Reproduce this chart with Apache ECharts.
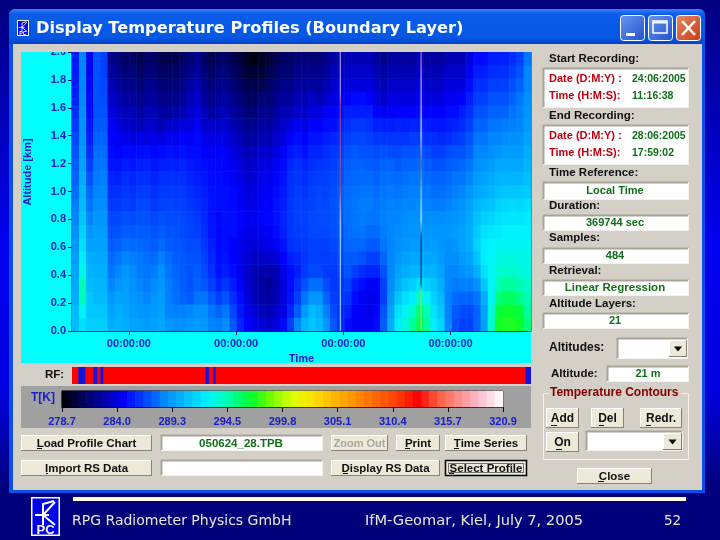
<!DOCTYPE html>
<html>
<head>
<meta charset="utf-8">
<style>html,body{margin:0;padding:0;background:#00007e}#chart{width:720px;height:540px}</style>
<script src="https://cdn.jsdelivr.net/npm/echarts@6/dist/echarts.min.js"></script>
</head>
<body>
<div id="chart"></div>
<script>
// altitude labels, bottom to top
const altitudes = ['0.0','0.1','0.2','0.3','0.4','0.5','0.6','0.7','0.8','0.9','1.0','1.1','1.2','1.3','1.4','1.5','1.6','1.7','1.8','1.9','2.0'];

// temperature [K], one array per altitude, 64 time bins
const t200 = [285.5,288.5,284.5,287,286.5, 282,281.5,281,281,280.5,281,281,280.5,280.5,280.5,281,281.5,282,281,280.5,281, 281,280.5,280,279.5,279,279.5,280,280.5,281, 281,281.5,281.5,281.5,281.5,282,282.5,283,283, 283,283,283,282.5,282,282.5,282.5,282.5,282.5,283, 282.5,282.5,282.5,283,283,283,284,285,285,285.5, 285.5,285.5,286,286.5,288];
const t190 = [285.5,288.5,284.5,287,286.5, 282.5,282,281.5,281.5,281,281.5,281.5,281,281,281,281.5,282,282.5,281.5,281,281.5, 281.5,281,280.5,280,279.8,280,280.5,281,281.5, 281.5,282,282,282,282,282.5,283,283.5,283.5, 283.5,283.5,283.5,283,282.5,283,283,283,283,283.5, 283,283,283,283.5,283.5,283.5,284.5,285.5,285.5,286, 286,286,286.5,287,288.5];
const t180 = [285.5,288.5,284.7,287,286.7, 283,282.5,282,282,281.5,282,282,281.5,281.5,281.5,282,282.5,283,282,281.5,282, 282,281.5,281,280.5,280.5,280.5,281,281.5,282, 282,282.5,282.5,282.5,282.5,283,283.5,284,284, 284,284,284,283.5,283,283.5,283.5,283.5,283.5,284, 283.5,283.5,283.5,284,284,284,285,286,286,286.5, 286.5,286.5,287,287.5,288.5];
const t170 = [285.7,288.6,284.9,287,286.8, 283.5,283,282.5,282.5,282,282.5,282.5,282,282,282,282.5,283,283.5,282.5,282,282.5, 282.5,282,281.5,281,281,281.5,281.5,282,282.5, 282.5,283,283,283.5,283,283.5,284,284.5,284.7, 285,285,284.7,284,283.5,284,284,284,284,284.5, 284,284,284,284.5,284.5,284.7,285.5,286.5,286.5,287, 287,287,287.5,288,288.8];
const t160 = [286,288.8,285,287,287, 284,283.5,283,283,282.5,283,283,282.5,282.5,282.7,283,283.5,284,283,282.5,283, 283,282.5,282,281.5,281.5,282,282,282.5,283, 283,283.5,283.5,284,284,284.5,284.7,285,285.5, 285.5,285.5,285.5,284.7,284.5,284.5,284.7,284.7,284.7,285, 284.7,284.7,284.7,285,285,285.5,286,287,287,287.5, 287.5,287.5,288,288.3,289];
const t150 = [286.3,288.9,285.3,287.2,287.2, 284.5,284,283.5,283.5,283,283.5,283.5,283,283.5,283.5,284,284,284.5,283.5,283.5,283.5, 283.5,283,282.5,282,282,282.5,282.5,283,283.5, 284,284.5,284,284.7,284.7,285,285,285.5,286, 286.3,286.3,286,285.5,285.5,285.5,285.7,285.5,285.7,285.7, 285.5,285.3,285.3,285.5,285.7,286,286.5,287.5,287.5,288, 288,288.2,288.3,288.5,289.2];
const t140 = [286.7,289,285.5,287.5,287.5, 284.7,284.5,284.2,284,284.2,284,284.2,284,284.5,284.3,284.7,284.5,284.9,284.2,284,284.2, 284,283.5,283,282.5,282.7,283,283,283.5,284, 284.7,285,284.7,285.2,285.2,285.5,285.7,286,286.5, 286.7,286.7,286.5,286.2,286.2,286.2,286.2,286.2,286.5,286.5, 286,286,285.8,286,286.3,286.5,287,288,288,288.5, 288.5,288.7,288.7,288.8,289.5];
const t130 = [287,289.3,286,287.8,287.8, 285,284.7,284.9,284.9,285,285.1,284.8,285,285.2,285,285.2,285,285,284.7,284.5,284.7, 284.5,284,283.5,283,283.2,283.5,283.5,284,284.7, 285.3,285.5,285.2,285.7,285.7,286,286.2,286.5,287, 287.2,287,287,286.8,287,286.8,286.8,287,287,287.2, 286.7,286.5,286.5,286.8,287,287,287.5,288.5,288.5,288.8, 289,289.2,289.2,289.2,290];
const t120 = [287.3,289.6,286.5,288,288, 285.3,285.2,285.5,285.3,285.5,285.7,285.3,285.5,285.6,285.5,285.7,285.4,285.2,285,284.9,284.9, 284.7,284.3,284,283.3,283.5,284,284,284.5,285, 285.8,286,285.7,286,286.2,286.3,286.5,286.8,287.3, 287.5,287.5,287.3,287.2,287.5,287.5,287.2,287.5,287.5,287.7, 287.3,287,287,287.3,287.5,287.6,288,288.8,289,289.3, 289.8,289.8,289.8,289.8,290.3];
const t110 = [287.5,290,287,288.2,288.3, 285.7,285.6,286,285.7,286,286,285.7,286,286,286,286,285.7,285.5,285.3,285,285, 284.8,284.5,284.2,283.6,283.8,284.3,284.3,284.8,285.2, 286,286.2,286,286.3,286.5,286.5,286.7,287,287.5, 287.7,287.7,287.7,287.5,287.8,287.8,287.7,287.8,288,288, 287.7,287.5,287.5,287.7,288,288,288.5,289.2,289.5,289.8, 290.2,290.3,290.3,290.3,290.7];
const t100 = [287.8,290.3,287.7,288.4,288.5, 286,286,286.3,286,286.4,286.4,286,286.3,286.3,286.3,286.3,286,285.8,285.5,285.2,285, 285,284.8,284.4,284,284,284.5,284.5,285,285.4, 286,286.4,286.2,286.5,286.7,286.6,286.8,287.2,287.7, 287.9,288,288,287.8,288,288.1,288,288.2,288.3,288.3, 288,287.8,287.8,288,288.3,288.5,289,289.7,290,290.3, 290.8,291,291,291,291.2];
const t090 = [288.2,290.6,288,288.7,288.7, 286.3,286.3,286.6,286.4,286.7,286.7,286.3,286.6,286.6,286.5,286.5,286.2,286,285.7,285.2,285, 285,284.9,284.6,284.2,284.2,284.6,284.7,285.2,285.6, 286.2,286.5,286.4,286.6,286.8,286.7,287,287.3,287.8, 288,288.2,288.2,288,288.2,288.4,288.3,288.5,288.5,288.6, 288.3,288.2,288.2,288.4,288.7,288.9,289.5,290.3,290.7,291, 291.5,291.7,291.8,291.7,292];
const t080 = [288.5,291,288.5,289,289, 286.7,286.7,287,286.8,287,287,286.7,287,286.8,286.8,286.7,286.5,286.3,285.8,285.2,284.9, 285.1,285,284.7,284.4,284.4,284.7,284.8,285.2,285.7, 286.2,286.5,286.5,286.7,286.8,286.8,287,287.3,287.8, 288,288.2,288,288,288.3,288.5,288.5,288.7,288.8,288.8, 288.7,288.7,288.7,288.8,289,289.2,289.8,290.8,291.3,291.6, 292,292.2,292.3,292.2,292.5];
const t070 = [288.8,291.4,289,289.3,289.3, 287,287,287.3,287.2,287.3,287.3,287,287.3,287,287,286.8,286.6,286.5,286,285.3,284.8, 285,285,284.6,284.2,284.2,284.4,284.6,285,285.6, 286.2,286.4,286.4,286.7,286.7,286.7,286.9,287.2,287.7, 287.9,288,287.7,287.7,288.2,288.5,288.6,288.8,288.9,289, 289,289,289,289,289.2,289.5,290,291.2,292,292.3, 292.5,292.7,292.7,292.7,292.7];
const t060 = [289,292,289.5,289.5,289.5, 287.3,287.5,287.8,287.7,287.7,287.5,287.3,287.7,287.3,287.1,287,286.8,286.8,286.2,285.5,284.9, 285,284.7,284.2,284,283.8,284,284.2,284.5,285.2, 286,286.2,286.3,286.5,286.5,286.5,286.7,287,287.5, 287.6,287.6,287.2,287.2,288,288.5,288.8,289,289.2,289.2, 289.3,289.3,289,288.8,289,289.5,290,291.5,292.5,292.8, 293,293,293,293,293];
const t050 = [289.3,292.5,290,289.8,289.8, 287.7,288,288.5,288.2,288,287.8,287.7,288.3,287.7,287.3,287.2,287,287,286.5,285.7,285, 285.2,284.7,284.2,283.7,283.3,283.5,283.5,283.8,284.7, 285.5,285.8,286.2,286.5,286.5,286.4,286.5,286.8,287.2, 287.2,287,286.5,286.5,287.5,288.5,289,289.5,289.7,289.7, 289.7,289.7,289.2,288.7,288.7,289.2,289.5,291,292.5,293, 293.3,293.5,293.5,293.3,293.3];
const t040 = [289.5,293.3,290.3,290,290, 288,288.5,289,288.6,288.2,288,288.2,288.8,288,287.5,287.3,287,287.3,286.8,286,285.2, 285.5,285,284.3,283.5,283,282.8,282.8,283,284.2, 285,285.5,286.3,286.7,286.7,286.3,286.3,286.5,287, 286.5,286,285.7,285.7,287,288.5,289.5,290,290.3,290.3, 290.2,290.2,289.5,288.5,288.5,288.8,289,290,292,293, 293.8,294,294,293.7,293.5];
const t030 = [289.8,294.5,290.5,290.3,290.3, 288.5,289,289.3,288.8,288.4,288.2,288.7,289,288.2,287.7,287.3,287,287.5,287.2,286.5,285.7, 286.2,285.5,284.7,283.7,283,282.5,282.3,282.8,284, 285,286,287,287.8,287.8,286.8,286.3,286.3,286.5, 285.5,285,284.5,284.7,286.5,288.7,290,291,291.3,292, 291.5,291,290,288.5,288.2,288.3,288.3,288.8,291,293, 294.5,295,295,294.5,294];
const t020 = [290,294.5,291,290.5,290.5, 289,289.5,289.5,289,288.8,288.5,289,289.2,288.2,287.8,287.5,287.3,288,288,287.2,286.5, 287,286,285,284,283.2,282.7,282.5,283,284, 285.2,286.5,288,289,289,287.5,286.5,286.2,286, 285,284.5,284.2,284.5,286.5,289,291,292,292.5,294, 293,291.5,290.5,288.3,287.7,287.5,287.5,288,290,293, 295.5,296,296,295.3,294.5];
const t010 = [290.5,293,291,291,291, 289.5,290,289.7,289.2,289,289,289.2,289.4,288.5,288.3,288.3,288.5,288.8,288.8,288,287.5, 288,286.7,285.3,284.3,283.7,283.2,283,283.5,284.2, 285.7,287.3,289.2,290.5,290,288.3,286.8,286,285.5, 284.7,284.5,284.3,284.7,287,289.5,292,293,294,295.5, 294.5,292,291,288.3,287.2,286.8,286.8,287.5,289.5,293.5, 296.5,297,297,296.5,295];
const t000 = [290.5,292,291.3,291.3,291.3, 290,290.2,290,289.5,289.5,289.3,289.5,289.7,289,288.8,288.8,289,289.2,289,288.5,288.2, 288.7,287.2,285.7,284.7,284.2,283.7,283.5,284,285, 286.5,288.5,290.3,291,290.5,289,287.2,286,285, 284.6,284.5,284.5,285,287.3,290,292.5,293.5,295,296, 295,292.5,291.5,288.5,287,286.5,286.5,287.5,289.5,294, 297,297.3,297.3,297,295.5];
const altitudeRows = [t000,t010,t020,t030,t040,t050,t060,t070,t080,t090,t100,t110,t120,t130,t140,t150,t160,t170,t180,t190,t200];

const durationSec = 369744;
const midnights = [45802, 132202, 218602, 305002]; // seconds after start of recording
const altitudeTicks = 0.2;

// two bad profiles, seconds after start
const badProfile1 = 216100;
const badProfile2 = 281200;

// rain flag spans, seconds after start
const rainStart = [5086, 17195, 22846, 107614, 114070, 365300];
const rainEnd = [10736, 20424, 25268, 110278, 115684, 369744];

// temperature scale
const tempLevels = [279.1,279.9,280.7,281.5,282.2,283.0,283.8,284.6,285.4,286.2,286.9,287.7,288.5,289.3,290.1,290.9,291.6,292.4,293.2,294.0,294.8,295.6,296.3,297.1,297.9,298.7,299.5,300.3,301.0,301.8,302.6,303.4,304.2,305.0,305.7,306.5,307.3,308.1,308.9,309.7,310.4,311.2,312.0,312.8,313.6,314.4,315.1,315.9,316.7,317.5,318.3,319.1,319.8,320.6];
const tempLabels = ['278.7','284.0','289.3','294.5','299.8','305.1','310.4','315.7','320.9'];
const paletteColors = ['#000000','#000058','#0000a8','#0000ff','#0048ff','#0090ff','#00c0ff','#00f4ff','#00ffa8','#00ff30','#70ff00','#dcff00','#ffe000','#ffb800','#ff9000','#ff6800','#ff4000','#ff0000','#ff6040','#ff9090','#ffc0d0','#ffffff'];

const UI_FONT = '"Liberation Sans", Arial, sans-serif';
const BLUE_TXT = '#1820c8';
const GREEN_TXT = '#107018';
const RED_TXT = '#c00010';
const BLACK_TXT = '#101010';

// ---- window chrome ----
const els = [];
function box(x, y, w, h, fill, extra) {
  els.push(Object.assign({ type: 'rect', silent: true, z: -1, shape: { x, y, width: w, height: h }, style: { fill } }, extra || {}));
}
function seg(x1, y1, x2, y2, stroke, lw, z) {
  els.push({ type: 'line', silent: true, z: z === undefined ? -1 : z, shape: { x1, y1, x2, y2 }, style: { stroke, lineWidth: lw || 1 } });
}
function txt(text, x, y, fill, size, align, extra) {
  els.push(Object.assign({
    type: 'text', silent: true, z: -1, x, y,
    style: { text, fill, font: 'bold ' + (size || (fill === BLACK_TXT ? 11.5 : 11)) + 'px ' + UI_FONT, textAlign: align || 'left', textVerticalAlign: 'middle' }
  }, extra || {}));
}
function sunken(x, y, w, h) {
  box(x, y, w, h, '#ffffff');
  seg(x, y + 0.5, x + w, y + 0.5, '#a8a498', 2);
  seg(x + 0.5, y, x + 0.5, y + h, '#a8a498', 2);
  seg(x, y + h - 0.5, x + w, y + h - 0.5, '#f4f2ec', 1);
  seg(x + w - 0.5, y, x + w - 0.5, y + h, '#f4f2ec', 1);
}
function button(label, x, y, w, h, opts) {
  opts = opts || {};
  box(x, y, w, h, '#ece9d8');
  seg(x, y + 0.5, x + w, y + 0.5, '#ffffff');
  seg(x + 0.5, y, x + 0.5, y + h, '#ffffff');
  seg(x, y + h - 0.5, x + w, y + h - 0.5, '#85827a');
  seg(x + w - 0.5, y, x + w - 0.5, y + h, '#85827a');
  txt(label, x + w / 2, y + h / 2 + 0.5, opts.color || BLACK_TXT, opts.size || 11.5, 'center');
  if (opts.ux) seg(opts.ux, y + h - 2.5, opts.ux + (opts.uw || 4), y + h - 2.5, BLACK_TXT);
  if (opts.focus) {
    els.push({ type: 'rect', silent: true, z: -1, shape: { x: x + 0.5, y: y + 0.5, width: w - 1, height: h - 1 }, style: { fill: 'none', stroke: '#000', lineWidth: 1.5 } });
    els.push({ type: 'rect', silent: true, z: -1, shape: { x: x + 3.5, y: y + 3.5, width: w - 7, height: h - 7 }, style: { fill: 'none', stroke: '#000', lineWidth: 1, lineDash: [1, 1] } });
  }
}
function comboArrow(x, y, w, h) {
  button('', x, y, w, h);
  els.push({ type: 'polygon', silent: true, z: -1, shape: { points: [[x + w / 2 - 4, y + h / 2 - 2], [x + w / 2 + 4, y + h / 2 - 2], [x + w / 2, y + h / 2 + 3]] }, style: { fill: '#000' } });
}
function logo(x, y, w, h, s) {
  box(x, y, w, h, '#ffffff');
  box(x + s, y + s, w - 2 * s, h - 2 * s, '#0000f0');
  const sx = w / 29, sy = h / 39;
  const stroke = '#ffffff';
  els.push({ type: 'polyline', silent: true, z: -1, shape: { points: [[x + 23 * sx, y + 4 * sy], [x + 12 * sx, y + 7 * sy], [x + 12 * sx, y + 28 * sy]] }, style: { stroke, lineWidth: 2 * sx, fill: 'none' } });
  els.push({ type: 'polyline', silent: true, z: -1, shape: { points: [[x + 24 * sx, y + 5 * sy], [x + 12 * sx, y + 18 * sy], [x + 24 * sx, y + 28 * sy]] }, style: { stroke, lineWidth: 2 * sx, fill: 'none' } });
  seg(x + 4 * sx, y + 18 * sy, x + 18 * sx, y + 18 * sy, stroke, 2 * sy);
  txt('PC', x + w / 2, y + 33 * sy, '#ffffff', 13 * sy, 'center');
}

// desktop and window frame
box(0, 0, 720, 540, new echarts.graphic.LinearGradient(0, 0, 0, 1, [
  { offset: 0, color: '#00007e' }, { offset: 0.1, color: '#00009c' }, { offset: 0.45, color: '#0000f0' },
  { offset: 0.72, color: '#0000e0' }, { offset: 0.9, color: '#00007e' }, { offset: 1, color: '#00007a' }]));
box(9, 9, 696, 484, '#0a50e8', { shape: { x: 9, y: 9, width: 696, height: 484, r: [6, 6, 0, 0] } });
box(9, 9, 696, 35, new echarts.graphic.LinearGradient(0, 0, 0, 1, [
  { offset: 0, color: '#3a80f2' }, { offset: 0.15, color: '#0a5ce8' }, { offset: 0.8, color: '#0458e4' }, { offset: 1, color: '#0244cc' }]),
  { shape: { x: 9, y: 9, width: 696, height: 35, r: [6, 6, 0, 0] } });
box(13, 44, 689, 446, '#d4d0c8');

// title bar
logo(17, 20, 12, 16, 1);
els.push({
  type: 'text', silent: true, z: -1, x: 36, y: 29,
  style: { text: 'Display Temperature Profiles (Boundary Layer)', fill: '#ffffff', font: 'bold 16.2px "DejaVu Sans", sans-serif', textAlign: 'left', textVerticalAlign: 'middle', shadowColor: '#001a70', shadowOffsetX: 1, shadowOffsetY: 1, shadowBlur: 1 }
});
const winBtn = (x, fill) => els.push({ type: 'rect', silent: true, z: -1, shape: { x: x + 0.5, y: 15.5, width: 24, height: 25, r: 3 }, style: { fill, stroke: '#ffffff', lineWidth: 1 } });
winBtn(620, new echarts.graphic.LinearGradient(0, 0, 1, 1, [{ offset: 0, color: '#6c98f0' }, { offset: 1, color: '#2050d0' }]));
box(626, 33, 9, 3, '#ffffff');
winBtn(648, new echarts.graphic.LinearGradient(0, 0, 1, 1, [{ offset: 0, color: '#6c98f0' }, { offset: 1, color: '#2050d0' }]));
els.push({ type: 'rect', silent: true, z: -1, shape: { x: 653, y: 21, width: 14, height: 12 }, style: { fill: 'none', stroke: '#ffffff', lineWidth: 1.5 } });
seg(653, 22.5, 667, 22.5, '#ffffff', 2);
winBtn(676, new echarts.graphic.LinearGradient(0, 0, 1, 1, [{ offset: 0, color: '#e88860' }, { offset: 1, color: '#c83c18' }]));
seg(682, 21, 695, 35, '#ffffff', 2.5);
seg(695, 21, 682, 35, '#ffffff', 2.5);

// plot panels
box(21, 52, 510, 311, '#00ffff');
box(21, 386, 510, 42, '#a0a0a0');
box(13, 44, 689, 8, '#d4d0c8', { z: 50 }); // clips the top tick label, as in the app
txt('Altitude [km]', 28, 172, BLUE_TXT, 11, 'center', { rotation: Math.PI / 2 });
txt('RF:', 45, 374.5, BLACK_TXT);
txt('T[K]', 31, 398, BLUE_TXT, 12);

// right column
txt('Start Recording:', 549, 59, BLACK_TXT);
sunken(543, 68, 146, 40);
txt('Date (D:M:Y) :', 549, 79, RED_TXT);
txt('24:06:2005', 632, 79, GREEN_TXT, 10.5);
txt('Time (H:M:S):', 549, 96, RED_TXT);
txt('11:16:38', 632, 96, GREEN_TXT, 10.5);
txt('End Recording:', 549, 116, BLACK_TXT);
sunken(543, 125, 146, 40);
txt('Date (D:M:Y) :', 549, 136, RED_TXT);
txt('28:06:2005', 632, 136, GREEN_TXT, 10.5);
txt('Time (H:M:S):', 549, 153, RED_TXT);
txt('17:59:02', 632, 153, GREEN_TXT, 10.5);
txt('Time Reference:', 549, 173, BLACK_TXT);
sunken(543, 182, 146, 18);
txt('Local Time', 615, 191, GREEN_TXT, 11, 'center');
txt('Duration:', 549, 206, BLACK_TXT);
sunken(543, 215, 146, 16);
txt('369744 sec', 615, 223, GREEN_TXT, 11, 'center');
txt('Samples:', 549, 238, BLACK_TXT);
sunken(543, 248, 146, 16);
txt('484', 615, 256, GREEN_TXT, 11, 'center');
txt('Retrieval:', 549, 271, BLACK_TXT);
sunken(543, 280, 146, 16);
txt('Linear Regression', 615, 288, GREEN_TXT, 11.5, 'center');
txt('Altitude Layers:', 549, 304, BLACK_TXT);
sunken(543, 313, 146, 16);
txt('21', 615, 321, GREEN_TXT, 11, 'center');
txt('Altitudes:', 549, 348, BLACK_TXT, 12);
sunken(617, 338, 71, 21);
comboArrow(669, 340, 18, 17);
txt('Altitude:', 551, 374, BLACK_TXT);
sunken(607, 366, 82, 16);
txt('21 m', 648, 374, GREEN_TXT, 11, 'center');

// temperature contours group
els.push({ type: 'rect', silent: true, z: -1, shape: { x: 543.5, y: 393.5, width: 145, height: 66 }, style: { fill: 'none', stroke: '#f4f2ec', lineWidth: 1 } });
box(549, 387, 132, 12, '#d4d0c8');
txt('Temperature Contours', 550, 393, '#800000', 12);
button('Add', 546, 408, 33, 20, { ux: 551, uw: 6, size: 12 });
button('Del', 591, 408, 33, 20, { ux: 599, uw: 5, size: 12 });
button('Redr.', 640, 408, 42, 20, { ux: 646, uw: 5, size: 12 });
button('On', 546, 432, 33, 20, { ux: 556, uw: 6, size: 12 });
sunken(586, 431, 97, 20);
comboArrow(663, 433, 19, 17);
button('Close', 577, 468, 75, 16, { ux: 598, uw: 6 });

// bottom buttons
button('Load Profile Chart', 21, 435, 131, 16, { ux: 37, uw: 5 });
button('Import RS Data', 21, 460, 131, 16, { ux: 46, uw: 2 });
sunken(161, 435, 162, 16);
txt('050624_28.TPB', 241, 443.5, GREEN_TXT, 11.5, 'center');
sunken(161, 460, 162, 16);
button('Zoom Out', 331, 435, 57, 16, { color: '#aaa79c', size: 11 });
button('Print', 396, 435, 44, 16, { ux: 405, uw: 5 });
button('Time Series', 445, 435, 82, 16, { ux: 454, uw: 5 });
button('Display RS Data', 331, 460, 109, 16, { ux: 343, uw: 5 });
button('Select Profile', 445, 460, 82, 16, { focus: true, ux: 449, uw: 5 });

// slide footer
box(73, 497, 613, 4, '#fffbe0');
logo(31, 497, 29, 39, 1.5);
[['RPG Radiometer Physics GmbH', 72, 14], ['IfM-Geomar, Kiel, July 7, 2005', 365, 14.6], ['52', 664, 13.5]].forEach(function (f) {
  els.push({ type: 'text', silent: true, z: -1, x: f[1], y: 521, style: { text: f[0], fill: '#e8e8d8', font: f[2] + 'px "DejaVu Sans", sans-serif', textAlign: 'left', textVerticalAlign: 'middle' } });
});

// ---- data for the series ----
const heatData = [];
altitudeRows.forEach(function (row, r) {
  row.forEach(function (t, c) { heatData.push([c, r, t]); });
});
const binNames = t000.map(function (_, i) { return String(i); });
const levelNames = tempLevels.map(String);
const levelData = tempLevels.map(function (t, i) { return [i, 0, t]; });
const rainData = rainStart.map(function (s, i) { return [s, rainEnd[i]]; });

const tickFont = { color: BLUE_TXT, fontFamily: UI_FONT, fontWeight: 'bold', fontSize: 11 };
const darkLine = { lineStyle: { color: '#10184a', width: 1 } };
function vline(stops) {
  return new echarts.graphic.LinearGradient(0, 0, 0, 1, stops);
}

const option = {
  animation: false,
  backgroundColor: '#00007e',
  graphic: { elements: els },
  visualMap: {
    show: false, type: 'continuous', min: 278.7, max: 320.9, dimension: 2,
    seriesIndex: [0, 3], inRange: { color: paletteColors }
  },
  grid: [
    { left: 72, top: 52, width: 459, height: 279, show: true, borderColor: '#10184a', borderWidth: 1, backgroundColor: 'transparent' },
    { left: 62, top: 391, width: 441, height: 16, show: true, borderColor: '#000000', borderWidth: 1, backgroundColor: 'transparent' },
    { left: 72, top: 367, width: 459, height: 17, show: true, borderWidth: 0, backgroundColor: '#ff0000' }
  ],
  xAxis: [
    { type: 'category', gridIndex: 0, data: binNames, show: false },
    {
      type: 'value', gridIndex: 0, min: 0, max: durationSec, position: 'bottom', splitLine: { show: false },
      axisLine: Object.assign({ show: true }, darkLine),
      axisTick: Object.assign({ show: true, length: 4, customValues: midnights }, darkLine),
      axisLabel: Object.assign({ customValues: midnights, margin: 7, formatter: function () { return '00:00:00'; } }, tickFont),
      name: 'Time', nameLocation: 'middle', nameGap: 20, nameTextStyle: tickFont
    },
    { type: 'category', gridIndex: 1, data: levelNames, show: false },
    {
      type: 'value', gridIndex: 1, min: 0, max: tempLabels.length - 1, interval: 1, position: 'bottom', splitLine: { show: false },
      axisLine: { show: true, lineStyle: { color: '#000000' } },
      axisTick: { show: true, length: 5, lineStyle: { color: '#000000' } },
      axisLabel: Object.assign({ margin: 9, showMinLabel: true, showMaxLabel: true, hideOverlap: false, formatter: function (v) { return tempLabels[v]; } }, tickFont)
    },
    { type: 'value', gridIndex: 2, min: 0, max: durationSec, show: false }
  ],
  yAxis: [
    { type: 'category', gridIndex: 0, data: altitudes, show: false },
    {
      type: 'value', gridIndex: 0, min: 0, max: 2, interval: altitudeTicks, position: 'left', splitLine: { show: false },
      axisLine: Object.assign({ show: true }, darkLine),
      axisTick: Object.assign({ show: true, length: 4 }, darkLine),
      axisLabel: Object.assign({ margin: 6, formatter: function (v) { return v.toFixed(1); } }, tickFont)
    },
    { type: 'category', gridIndex: 1, data: ['T'], show: false },
    { type: 'value', gridIndex: 2, min: 0, max: 1, show: false }
  ],
  series: [
    { name: 'Temperature', type: 'heatmap', xAxisIndex: 0, yAxisIndex: 0, data: heatData, progressive: 0, itemStyle: { borderWidth: 0 }, emphasis: { disabled: true } },
    {
      type: 'line', xAxisIndex: 1, yAxisIndex: 1, showSymbol: false, silent: true, z: 5,
      data: [[badProfile1, 0], [badProfile1, 2]],
      lineStyle: {
        width: 1, color: vline([
          { offset: 0, color: '#c8b0e0' }, { offset: 0.15, color: '#c8b0e0' }, { offset: 0.2, color: '#a04888' },
          { offset: 0.48, color: '#a04888' }, { offset: 0.6, color: '#c8e0ff' }, { offset: 1, color: '#a8e8ff' }])
      }
    },
    {
      type: 'line', xAxisIndex: 1, yAxisIndex: 1, showSymbol: false, silent: true, z: 5,
      data: [[badProfile2, 0], [badProfile2, 2]],
      lineStyle: {
        width: 1, color: vline([
          { offset: 0, color: '#e070a0' }, { offset: 0.1, color: '#f0c0d0' }, { offset: 0.3, color: '#ffffff' },
          { offset: 0.4, color: '#a04888' }, { offset: 0.5, color: '#a0d8a0' }, { offset: 0.6, color: '#e8ffff' },
          { offset: 0.67, color: '#182060' }, { offset: 0.82, color: '#182060' }, { offset: 0.85, color: '#a0e050' }, { offset: 1, color: '#d8d030' }])
      }
    },
    { name: 'Scale', type: 'heatmap', xAxisIndex: 2, yAxisIndex: 2, data: levelData, progressive: 0, itemStyle: { borderWidth: 0 }, emphasis: { disabled: true } },
    {
      name: 'RF', type: 'custom', xAxisIndex: 4, yAxisIndex: 3, data: rainData, encode: { x: [0, 1] }, silent: true,
      renderItem: function (params, api) {
        const a = api.coord([api.value(0), 0]);
        const b = api.coord([api.value(1), 1]);
        return { type: 'rect', shape: { x: a[0], y: b[1], width: b[0] - a[0], height: a[1] - b[1] }, style: { fill: '#1414e0' } };
      }
    }
  ]
};

const myChart = echarts.init(document.getElementById('chart'));
myChart.setOption(option);
</script>
</body>
</html>
